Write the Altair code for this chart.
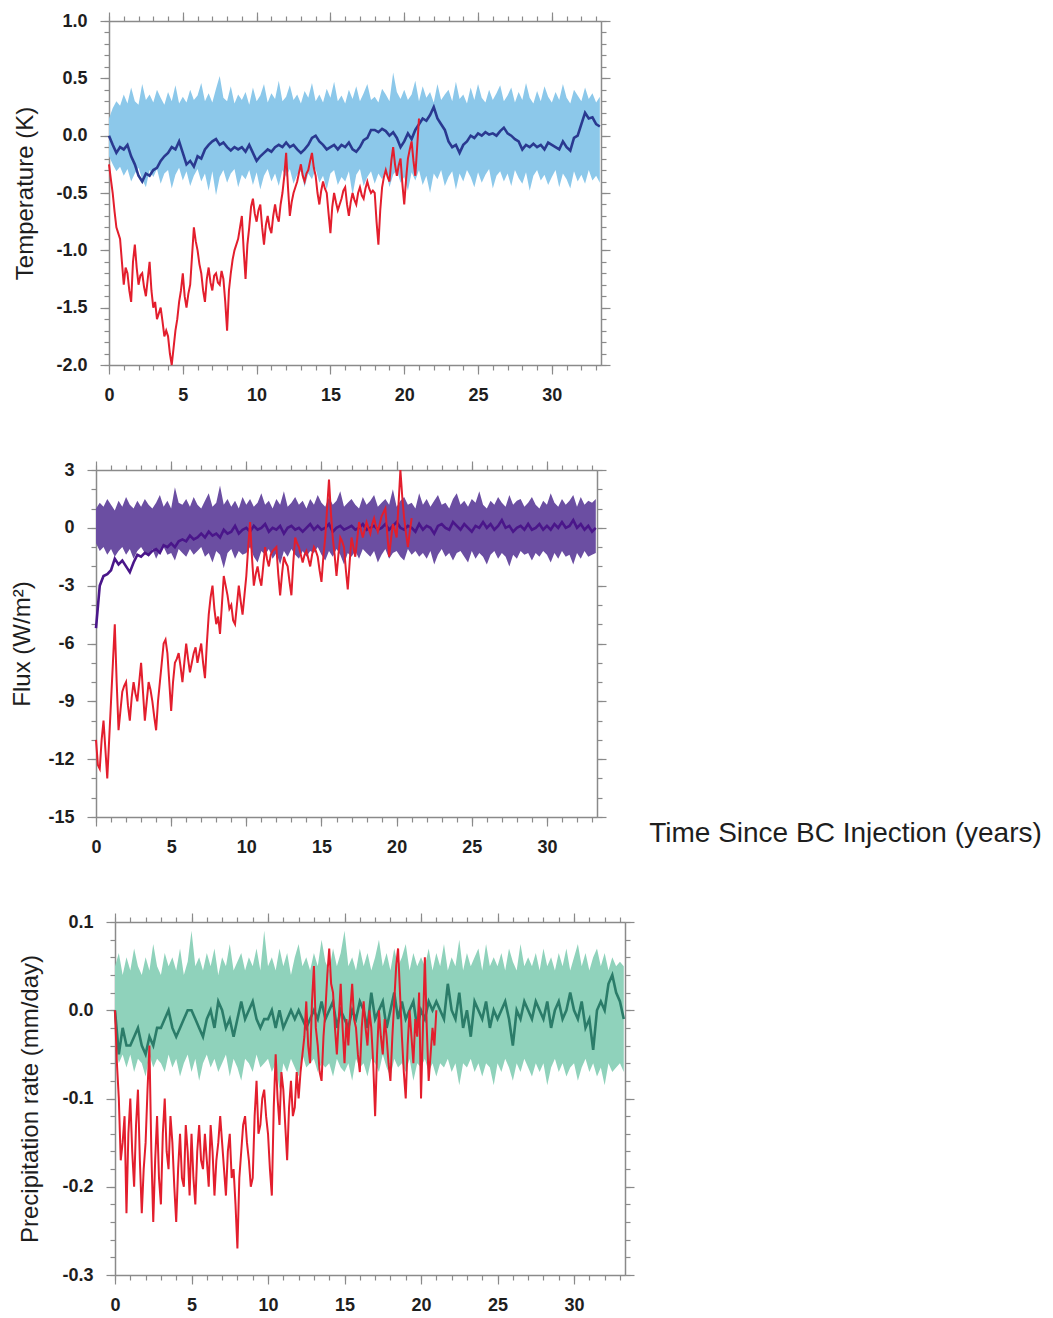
import altair as alt
import pandas as pd

# ---------------- data ----------------
STEP = 0.25        # control-run band and line: one value every 3 months
RED_STEP = 0.125   # BC-injection run: one value every 1.5 months
X_END = 33.33

# Panel 1 : Temperature (K)
temp_hi = [
    0.15, 0.24, 0.30, 0.26, 0.36, 0.28, 0.42, 0.30, 0.27, 0.45, 0.31, 0.36,
    0.29, 0.40, 0.33, 0.27, 0.38, 0.30, 0.44, 0.28, 0.34, 0.29, 0.40, 0.31,
    0.35, 0.46, 0.30, 0.37, 0.29, 0.41, 0.52, 0.33, 0.30, 0.43, 0.28, 0.36,
    0.31, 0.38, 0.27, 0.42, 0.30, 0.35, 0.45, 0.29, 0.37, 0.32, 0.48, 0.30,
    0.34, 0.44, 0.31, 0.36, 0.28, 0.39, 0.33, 0.46, 0.30, 0.36, 0.29, 0.41,
    0.33, 0.47, 0.30, 0.35, 0.28, 0.40, 0.32, 0.43, 0.30, 0.37, 0.45, 0.31,
    0.34, 0.29, 0.41, 0.36, 0.30, 0.55, 0.38, 0.32, 0.40, 0.31, 0.36, 0.48,
    0.30, 0.43, 0.33, 0.38, 0.29, 0.45, 0.31, 0.36, 0.40, 0.30, 0.47, 0.32,
    0.36, 0.28, 0.42, 0.31, 0.45, 0.33, 0.29, 0.40, 0.31, 0.37, 0.44, 0.30,
    0.35, 0.42, 0.29, 0.38, 0.31, 0.46, 0.33, 0.28, 0.39, 0.30, 0.43, 0.34,
    0.29, 0.38, 0.31, 0.45, 0.33, 0.28, 0.40, 0.35, 0.30, 0.42, 0.32, 0.37,
    0.29, 0.34,
]
temp_lo = [
    -0.18, -0.25, -0.31, -0.27, -0.35, -0.29, -0.40, -0.33, -0.28, -0.38, -0.45, -0.30,
    -0.36, -0.29, -0.42, -0.33, -0.30, -0.46, -0.34, -0.28, -0.39, -0.31, -0.44, -0.35,
    -0.29, -0.40, -0.33, -0.48, -0.31, -0.52, -0.36, -0.30, -0.41, -0.33, -0.29, -0.45,
    -0.34, -0.38, -0.30, -0.43, -0.32, -0.47, -0.35, -0.29, -0.40, -0.33, -0.44, -0.30,
    -0.36, -0.29, -0.42, -0.34, -0.31, -0.45, -0.33, -0.38, -0.29, -0.41, -0.35, -0.47,
    -0.33, -0.30, -0.43, -0.36, -0.40, -0.31, -0.52, -0.34, -0.29, -0.44, -0.36, -0.31,
    -0.42, -0.33, -0.38, -0.30, -0.45, -0.34, -0.30, -0.41, -0.36, -0.48, -0.32, -0.39,
    -0.30, -0.43, -0.35, -0.50, -0.33, -0.38, -0.30, -0.44, -0.36, -0.31, -0.47, -0.33,
    -0.40, -0.30, -0.36, -0.45, -0.32, -0.41, -0.34, -0.29, -0.46, -0.35, -0.31, -0.40,
    -0.33, -0.44, -0.30, -0.37, -0.42, -0.32, -0.48, -0.35, -0.30, -0.39, -0.34, -0.43,
    -0.36, -0.30, -0.45, -0.33, -0.38, -0.46, -0.31, -0.40, -0.34, -0.42, -0.30, -0.39,
    -0.35, -0.41,
]
temp_ctl = [
    0.00, -0.08, -0.15, -0.10, -0.12, -0.08, -0.18, -0.25, -0.35, -0.40, -0.33, -0.35,
    -0.30, -0.28, -0.22, -0.18, -0.15, -0.10, -0.12, -0.05, -0.15, -0.25, -0.22, -0.27,
    -0.18, -0.20, -0.12, -0.08, -0.05, -0.03, -0.08, -0.06, -0.10, -0.13, -0.10, -0.12,
    -0.10, -0.14, -0.08, -0.15, -0.22, -0.18, -0.15, -0.12, -0.14, -0.10, -0.08, -0.10,
    -0.06, -0.10, -0.08, -0.12, -0.15, -0.12, -0.08, -0.02, 0.00, -0.05, -0.08, -0.12,
    -0.10, -0.08, -0.12, -0.08, -0.10, -0.06, -0.12, -0.14, -0.10, -0.04, -0.02, 0.05,
    0.05, 0.03, 0.06, 0.04, 0.00, 0.03, -0.02, -0.10, -0.05, 0.02, -0.03, 0.05,
    0.10, 0.15, 0.13, 0.18, 0.25, 0.15, 0.10, 0.05, -0.05, -0.10, -0.08, -0.15,
    -0.08, -0.05, 0.00, -0.02, 0.02, 0.00, 0.03, 0.01, 0.02, 0.00, 0.04, 0.07,
    0.02, 0.00, -0.03, -0.05, -0.12, -0.08, -0.10, -0.07, -0.10, -0.08, -0.12, -0.06,
    -0.08, -0.10, -0.12, -0.05, -0.10, -0.13, -0.02, 0.00, 0.10, 0.20, 0.15, 0.16,
    0.10, 0.08,
]
temp_bc = [
    -0.25, -0.38, -0.50, -0.66, -0.80, -0.85, -0.90, -1.10,
    -1.30, -1.15, -1.20, -1.35, -1.45, -1.10, -0.95, -1.15,
    -1.30, -1.22, -1.20, -1.32, -1.40, -1.25, -1.10, -1.35,
    -1.50, -1.45, -1.60, -1.55, -1.50, -1.62, -1.75, -1.70,
    -1.75, -1.90, -2.00, -1.85, -1.70, -1.60, -1.45, -1.35,
    -1.20, -1.40, -1.50, -1.38, -1.30, -1.05, -0.80, -0.92,
    -1.00, -1.12, -1.20, -1.35, -1.45, -1.25, -1.15, -1.28,
    -1.35, -1.22, -1.20, -1.28, -1.30, -1.18, -1.25, -1.45,
    -1.70, -1.35, -1.20, -1.08, -1.00, -0.95, -0.90, -0.80,
    -0.70, -1.00, -1.25, -0.95, -0.80, -0.62, -0.55, -0.68,
    -0.75, -0.65, -0.60, -0.80, -0.95, -0.78, -0.70, -0.80,
    -0.85, -0.70, -0.60, -0.70, -0.75, -0.60, -0.50, -0.35,
    -0.15, -0.45, -0.70, -0.58, -0.50, -0.45, -0.40, -0.32,
    -0.25, -0.35, -0.40, -0.33, -0.30, -0.22, -0.15, -0.28,
    -0.35, -0.50, -0.60, -0.48, -0.40, -0.46, -0.50, -0.68,
    -0.85, -0.62, -0.50, -0.58, -0.65, -0.60, -0.55, -0.48,
    -0.45, -0.60, -0.70, -0.58, -0.50, -0.56, -0.60, -0.50,
    -0.45, -0.52, -0.55, -0.46, -0.40, -0.46, -0.50, -0.48,
    -0.50, -0.75, -0.95, -0.65, -0.45, -0.36, -0.30, -0.36,
    -0.40, -0.22, -0.10, -0.25, -0.35, -0.26, -0.20, -0.42,
    -0.60, -0.38, -0.20, -0.12, -0.05, -0.22, -0.35, -0.10,
    0.15,
]

# Panel 2 : Flux (W/m2)
flux_hi = [
    1.0, 1.3, 1.1, 1.5, 1.2, 0.9, 1.4, 1.1, 1.6, 1.2, 1.0, 1.4,
    1.1, 1.5, 1.2, 1.0, 1.3, 1.7, 1.1, 1.4, 1.0, 2.1, 1.3, 1.2,
    1.5, 1.1, 1.6, 1.2, 1.0, 1.4, 1.8, 1.1, 1.3, 2.2, 1.2, 1.5,
    1.1, 1.4, 1.0, 1.6, 1.2, 1.5, 1.1, 1.3, 1.8, 1.2, 1.4, 1.0,
    1.5, 1.2, 1.9, 1.1, 1.3, 1.6, 1.2, 1.4, 1.0, 1.5, 1.2, 1.7,
    1.3, 1.1, 1.6, 1.2, 1.4, 1.9, 1.1, 1.3, 1.5, 1.2, 1.0, 1.6,
    1.2, 1.4, 1.7, 1.1, 1.3, 1.5, 1.2, 2.0, 1.1, 1.4, 1.6, 1.2,
    1.3, 1.0, 1.8, 1.2, 1.5, 1.1, 1.4, 1.7, 1.2, 1.3, 1.0, 1.5,
    1.8, 1.2, 1.4, 1.1, 1.5, 1.3, 1.9, 1.2, 1.0, 1.4, 1.2, 1.6,
    1.3, 1.1, 1.7, 1.2, 1.4, 1.5, 1.1, 1.3, 1.6, 1.2, 1.0, 1.4,
    1.2, 1.8, 1.3, 1.1, 1.5, 1.2, 1.4, 1.7, 1.1, 1.6, 1.2, 1.4,
    1.3, 1.5,
]
flux_lo = [
    -0.8, -1.2, -1.0, -1.4, -1.1, -1.5, -1.2, -1.0, -1.4, -1.1, -1.6, -1.2,
    -1.0, -1.3, -1.5, -1.1, -1.6, -1.2, -1.0, -1.4, -1.3, -1.7, -1.1, -1.3,
    -1.5, -1.1, -1.4, -1.2, -1.0, -1.5, -1.3, -1.8, -1.2, -1.4, -2.1, -1.3,
    -1.1, -1.6, -1.2, -1.4, -1.3, -1.0, -1.5, -1.8, -1.2, -1.4, -1.1, -1.6,
    -1.3, -1.9, -1.2, -1.5, -1.1, -1.4, -1.6, -1.2, -1.5, -1.2, -1.3, -1.0,
    -1.4, -1.7, -1.2, -1.5, -1.1, -1.4, -1.9, -1.3, -1.5, -1.2, -1.6, -1.1,
    -1.3, -1.5, -1.2, -1.8, -1.4, -1.1, -1.6, -1.3, -1.2, -1.5, -1.7, -1.1,
    -1.4, -1.2, -1.5, -1.3, -1.6, -1.2, -1.9, -1.4, -1.1, -1.5, -1.3, -1.7,
    -1.3, -1.2, -1.5, -1.8, -1.2, -1.6, -1.3, -1.5, -1.9, -1.4, -1.2, -1.6,
    -1.3, -1.5, -2.0, -1.4, -1.6, -1.2, -1.4, -1.3, -1.7, -1.3, -1.5, -1.2,
    -1.4, -1.8, -1.3, -1.6, -1.2, -1.5, -1.4, -1.9, -1.3, -1.6, -1.2, -1.5,
    -1.4, -1.3,
]
flux_ctl = [
    -5.2, -3.0, -2.5, -2.4, -2.2, -1.6, -1.9, -1.7, -2.0, -2.3, -1.8, -1.4,
    -1.5, -1.3, -1.4, -1.2, -1.1, -1.3, -0.9, -1.0, -0.8, -1.0, -0.7, -0.6,
    -0.7, -0.4, -0.6, -0.5, -0.3, -0.5, -0.2, -0.4, -0.3, -0.5, -0.1, -0.3,
    -0.2, 0.1, -0.3, -0.1, 0.0, -0.2, 0.1, -0.1, 0.0, 0.2, -0.2, 0.0,
    -0.1, 0.1, -0.3, 0.0, 0.1, -0.1, 0.0, -0.2, 0.0, 0.2, -0.1, 0.1,
    -0.1, 0.0, 0.2, -0.2, 0.0, 0.1, -0.1, 0.0, 0.1, -0.1, 0.0, 0.2,
    -0.1, 0.0, 0.1, -0.1, 0.0, 0.2, -0.1, 0.1, 0.3, 0.0, -0.1, 0.1,
    0.0, -0.2, 0.2, -0.1, 0.1, 0.0, -0.3, 0.1, 0.2, 0.0, -0.1, 0.3,
    0.1, -0.1, 0.2, 0.0, -0.2, 0.1, 0.0, 0.3, 0.0, 0.2, -0.1, 0.1,
    0.4, 0.0, 0.1, -0.2, 0.0, 0.1, -0.1, 0.2, -0.1, 0.0, 0.2, -0.1,
    0.1, -0.1, 0.2, 0.0, 0.3, 0.0, 0.1, 0.4, 0.0, 0.2, -0.1, 0.1,
    -0.2, 0.0,
]
flux_bc = [
    -11.0, -12.3, -12.5, -11.0, -10.0, -11.5, -13.0, -11.0,
    -9.0, -7.0, -5.0, -8.0, -10.5, -9.5, -8.5, -8.2,
    -8.0, -9.2, -10.0, -8.8, -8.0, -8.6, -9.0, -8.0,
    -7.0, -8.5, -10.0, -9.0, -8.0, -8.4, -9.0, -9.8,
    -10.5, -9.0, -8.0, -7.0, -6.0, -5.8, -6.5, -8.0,
    -9.5, -8.0, -7.0, -6.8, -6.5, -7.2, -8.0, -7.0,
    -6.0, -6.8, -7.5, -7.0, -6.5, -6.2, -7.0, -6.5,
    -6.0, -7.0, -7.8, -6.0, -4.5, -3.6, -3.0, -4.2,
    -5.0, -4.6, -5.5, -4.0, -2.5, -3.0, -3.5, -4.2,
    -4.0, -4.8, -5.0, -4.0, -3.0, -3.8, -4.5, -3.5,
    -2.5, -1.0, 0.3, -1.5, -3.0, -2.4, -2.0, -2.6,
    -3.0, -2.0, -1.0, -1.6, -2.0, -1.4, -1.2, -1.1,
    -1.0, -2.4, -3.5, -2.4, -1.5, -1.8, -2.0, -2.8,
    -3.5, -1.8, -0.5, -0.8, -1.0, -1.4, -1.8, -1.4,
    -1.2, -1.6, -2.0, -1.4, -1.0, -1.2, -1.5, -2.2,
    -2.8, -1.5, -0.5, 1.0, 2.5, 0.8, -0.5, -1.4,
    -2.5, -1.4, -0.5, -0.7, -1.0, -2.2, -3.2, -1.8,
    -0.5, -1.0, -1.5, -0.6, 0.3, -0.1, -0.5, -0.1,
    0.3, 0.0, -0.3, 0.2, 0.5, 0.1, -0.2, 0.2,
    0.6, 0.8, 1.0, -0.3, -1.5, -0.6, 0.2, -0.1,
    -0.5, 1.2, 3.0, 1.6, 0.5, -0.3, -1.0, -0.2,
    0.5,
]

# Panel 3 : Precipitation rate (mm/day)
prec_hi = [
    0.05, 0.065, 0.04, 0.06, 0.045, 0.07, 0.05, 0.04, 0.06, 0.045, 0.075, 0.05,
    0.04, 0.065, 0.05, 0.06, 0.045, 0.07, 0.04, 0.055, 0.09, 0.05, 0.06, 0.045,
    0.065, 0.05, 0.07, 0.04, 0.06, 0.05, 0.075, 0.045, 0.055, 0.065, 0.045, 0.06,
    0.05, 0.07, 0.045, 0.09, 0.05, 0.06, 0.045, 0.07, 0.05, 0.065, 0.04, 0.06,
    0.075, 0.05, 0.06, 0.045, 0.065, 0.05, 0.08, 0.055, 0.045, 0.07, 0.05, 0.065,
    0.09, 0.05, 0.06, 0.045, 0.07, 0.05, 0.065, 0.045, 0.06, 0.08, 0.05, 0.065,
    0.045, 0.07, 0.05, 0.06, 0.075, 0.045, 0.065, 0.05, 0.06, 0.05, 0.07, 0.045,
    0.065, 0.05, 0.075, 0.045, 0.06, 0.05, 0.08, 0.045, 0.065, 0.05, 0.06, 0.07,
    0.045, 0.075, 0.05, 0.06, 0.05, 0.065, 0.045, 0.07, 0.055, 0.045, 0.075, 0.05,
    0.06, 0.05, 0.065, 0.045, 0.07, 0.05, 0.06, 0.045, 0.065, 0.05, 0.07, 0.045,
    0.06, 0.075, 0.05, 0.065, 0.045, 0.06, 0.07, 0.05, 0.065, 0.045, 0.06, 0.05,
    0.055, 0.05,
]
prec_lo = [
    -0.04, -0.06, -0.05, -0.065, -0.05, -0.07, -0.055, -0.06, -0.075, -0.05, -0.065, -0.055,
    -0.06, -0.07, -0.05, -0.065, -0.055, -0.075, -0.06, -0.05, -0.07, -0.055, -0.08, -0.06,
    -0.05, -0.065, -0.055, -0.07, -0.06, -0.05, -0.075, -0.055, -0.065, -0.08, -0.055, -0.06,
    -0.07, -0.05, -0.065, -0.06, -0.055, -0.07, -0.06, -0.09, -0.06, -0.07, -0.055, -0.065,
    -0.075, -0.05, -0.065, -0.06, -0.055, -0.07, -0.06, -0.065, -0.06, -0.075, -0.055, -0.065,
    -0.07, -0.06, -0.08, -0.055, -0.065, -0.06, -0.075, -0.055, -0.06, -0.07, -0.05, -0.065,
    -0.075, -0.055, -0.065, -0.06, -0.07, -0.055, -0.08, -0.06, -0.065, -0.055, -0.07, -0.06,
    -0.075, -0.06, -0.065, -0.055, -0.07, -0.06, -0.085, -0.06, -0.065, -0.055, -0.07, -0.06,
    -0.075, -0.06, -0.065, -0.085, -0.06, -0.07, -0.055, -0.065, -0.08, -0.06, -0.07, -0.055,
    -0.065, -0.075, -0.06, -0.07, -0.06, -0.085, -0.065, -0.055, -0.07, -0.06, -0.075, -0.065,
    -0.06, -0.08, -0.065, -0.055, -0.07, -0.06, -0.075, -0.065, -0.085, -0.06, -0.07, -0.065,
    -0.06, -0.07,
]
prec_ctl = [
    0.00, -0.05, -0.02, -0.04, -0.04, -0.03, -0.02, -0.04, -0.05, -0.03, -0.04, -0.02,
    -0.02, -0.01, 0.00, -0.02, -0.03, -0.02, -0.01, 0.00, 0.00, -0.01, -0.02, -0.03,
    -0.01, 0.00, -0.02, 0.01, 0.00, -0.02, -0.01, -0.03, -0.01, 0.01, -0.01, 0.00,
    0.01, -0.01, -0.02, -0.01, -0.01, 0.00, -0.02, 0.00, -0.02, -0.01, 0.00, -0.01,
    0.00, -0.01, -0.02, -0.01, 0.00, -0.01, 0.01, -0.01, 0.00, 0.01, -0.02, 0.00,
    -0.01, -0.02, 0.00, -0.01, 0.01, 0.00, -0.02, 0.02, -0.01, 0.00, 0.01, -0.02,
    0.00, 0.02, -0.01, 0.01, -0.01, 0.00, 0.01, -0.02, 0.00, -0.01, 0.01, 0.00,
    0.01, 0.00, -0.01, 0.03, 0.00, -0.01, 0.02, -0.02, 0.00, -0.03, 0.01, 0.00,
    -0.01, 0.01, -0.02, 0.00, -0.01, 0.00, 0.01, -0.01, -0.04, 0.00, -0.01, 0.01,
    0.00, -0.01, 0.01, 0.00, -0.01, 0.01, -0.02, 0.00, 0.01, -0.01, 0.00, 0.02,
    0.00, -0.01, 0.01, -0.02, -0.01, -0.045, 0.00, 0.01, 0.00, 0.03, 0.04, 0.02,
    0.01, -0.01,
]
prec_bc = [
    0.00, -0.06, -0.10, -0.17, -0.15, -0.12, -0.23, -0.14,
    -0.10, -0.16, -0.20, -0.13, -0.09, -0.17, -0.23, -0.18,
    -0.15, -0.09, -0.04, -0.16, -0.24, -0.17, -0.12, -0.19,
    -0.22, -0.14, -0.10, -0.16, -0.18, -0.12, -0.15, -0.20,
    -0.24, -0.18, -0.14, -0.19, -0.20, -0.13, -0.16, -0.21,
    -0.14, -0.19, -0.22, -0.16, -0.13, -0.17, -0.18, -0.14,
    -0.17, -0.20, -0.13, -0.16, -0.21, -0.17, -0.15, -0.12,
    -0.15, -0.18, -0.21, -0.16, -0.14, -0.19, -0.18, -0.22,
    -0.27, -0.19, -0.16, -0.13, -0.12, -0.15, -0.17, -0.20,
    -0.19, -0.12, -0.08, -0.14, -0.13, -0.10, -0.09, -0.12,
    -0.14, -0.18, -0.21, -0.11, -0.05, -0.10, -0.13, -0.07,
    -0.09, -0.13, -0.17, -0.11, -0.08, -0.12, -0.11, -0.07,
    -0.10, -0.07, -0.05, -0.03, 0.01, -0.04, -0.06, 0.01,
    0.05, -0.02, -0.04, -0.07, -0.08, -0.03, 0.00, 0.04,
    0.07, 0.03, 0.02, -0.02, -0.05, -0.01, 0.03, -0.02,
    -0.06, -0.01, -0.04, 0.00, 0.03, -0.01, -0.02, -0.05,
    -0.07, -0.02, 0.01, -0.02, -0.04, 0.00, -0.02, -0.06,
    -0.12, -0.05, 0.00, -0.03, -0.05, -0.01, -0.03, -0.06,
    -0.08, -0.03, 0.01, 0.05, 0.07, 0.02, -0.03, -0.07,
    -0.10, -0.04, 0.00, -0.03, -0.06, -0.01, -0.03, 0.02,
    -0.10, -0.02, 0.06, -0.02, -0.08, -0.05, -0.02, -0.04,
    0.00,
]

X_MAJOR = [0, 5, 10, 15, 20, 25, 30]
X_MINOR = list(range(0, 34))

FONT = "Liberation Sans"
FRAME = "#8a8a8a"
TXT = "#1e1e1e"
RED = "#e31e2d"


def times(n, step):
    return [round(i * step, 3) for i in range(n)]


def panel(hi, lo, ctl, bc, band_color, line_color, y_dom, y_major, y_minor,
          y_title, title_x, lead, width, height, fmt, x_title=None):
    band = pd.DataFrame({"t": times(len(hi), STEP), "lo": lo, "hi": hi, "ctl": ctl})
    red = pd.DataFrame({"t": times(len(bc), RED_STEP), "bc": bc})
    xs = alt.Scale(domain=[0, X_END], nice=False, zero=False)
    ys = alt.Scale(domain=y_dom, nice=False, zero=False)

    if x_title:
        x_axis = alt.Axis(orient="bottom", values=X_MAJOR, tickSize=9, labelPadding=12,
                          title=x_title, titleX=749, titleY=16, titleAlign="center",
                          titleBaseline="middle", titleFontSize=28)
    else:
        x_axis = alt.Axis(orient="bottom", values=X_MAJOR, tickSize=9, labelPadding=12,
                          title=None)
    y_axis = alt.Axis(orient="left", values=y_major, tickSize=9, labelPadding=13,
                      format=fmt, labelExpr="replace(datum.label, '\u2212', '-')",
                      title=y_title, titleX=title_x, titleBaseline="middle",
                      titleAlign="center")

    area = alt.Chart(band).mark_area(color=band_color, opacity=1).encode(
        x=alt.X("t:Q", scale=xs, axis=x_axis),
        y=alt.Y("lo:Q", scale=ys, axis=y_axis),
        y2="hi:Q",
    )
    ctl_line = alt.Chart(band).mark_line(color=line_color, strokeWidth=2.6).encode(
        x=alt.X("t:Q", scale=xs, axis=None),
        y=alt.Y("ctl:Q", scale=ys, axis=None),
    )
    bc_line = alt.Chart(red).mark_line(color=RED, strokeWidth=2.0).encode(
        x=alt.X("t:Q", scale=xs, axis=None),
        y=alt.Y("bc:Q", scale=ys, axis=None),
    )
    frame = alt.Chart(band).mark_line(strokeOpacity=0).encode(
        x=alt.X("t:Q", scale=xs, axis=alt.Axis(orient="top", values=X_MAJOR, labels=False,
                                                tickSize=9, title=None)),
        y=alt.Y("ctl:Q", scale=ys, axis=alt.Axis(orient="right", values=y_major, labels=False,
                                                  tickSize=9, title=None)),
    )
    minor_lb = alt.Chart(band).mark_line(strokeOpacity=0).encode(
        x=alt.X("t:Q", scale=xs, axis=alt.Axis(orient="bottom", values=X_MINOR, labels=False,
                                                domain=False, tickSize=5, title=None)),
        y=alt.Y("ctl:Q", scale=ys, axis=alt.Axis(orient="left", values=y_minor, labels=False,
                                                  domain=False, tickSize=5, title=None)),
    )
    minor_tr = alt.Chart(band).mark_line(strokeOpacity=0).encode(
        x=alt.X("t:Q", scale=xs, axis=alt.Axis(orient="top", values=X_MINOR, labels=False,
                                                domain=False, tickSize=5, title=None)),
        y=alt.Y("ctl:Q", scale=ys, axis=alt.Axis(orient="right", values=y_minor, labels=False,
                                                  domain=False, tickSize=5, title=None)),
    )
    layered = alt.layer(area, ctl_line, bc_line, frame, minor_lb, minor_tr).resolve_axis(
        x="independent", y="independent"
    ).properties(width=width, height=height)
    # an empty lead-in cell shifts this panel sideways within its row
    spacer = alt.Chart(pd.DataFrame({"a": [0]})).mark_point(size=0, opacity=0).encode(
        x=alt.value(0), y=alt.value(0)
    ).properties(width=lead, height=1)
    return alt.hconcat(spacer, layered, spacing=0)


p1 = panel(temp_hi, temp_lo, temp_ctl, temp_bc, "#8cc8ea", "#2a3990",
           [-2.0, 1.0], [-2.0, -1.5, -1.0, -0.5, 0.0, 0.5, 1.0],
           [round(-2.0 + 0.1 * i, 1) for i in range(31)],
           "Temperature (K)", -84, 5, 492, 344, ".1f")
p2 = panel(flux_hi, flux_lo, flux_ctl, flux_bc, "#6b4ea2", "#4a168a",
           [-15, 3], [-15, -12, -9, -6, -3, 0, 3], list(range(-15, 4)),
           "Flux (W/m\u00b2)", -74, 2, 501, 347, "d",
           x_title="Time Since BC Injection (years)")
p3 = panel(prec_hi, prec_lo, prec_ctl, prec_bc, "#8fd2bb", "#2b7c69",
           [-0.3, 0.1], [-0.3, -0.2, -0.1, 0.0, 0.1],
           [round(-0.3 + 0.02 * i, 2) for i in range(21)],
           "Precipitation rate (mm/day)", -85, 10, 510, 353, ".1f")

chart = alt.vconcat(p1, p2, p3, spacing=56).properties(
    padding={"left": 0, "top": 3, "right": 0, "bottom": 0}
).configure_axis(
    labelFont=FONT, labelFontSize=18, labelFontWeight="bold", labelColor=TXT,
    labelFlush=False,
    titleFont=FONT, titleFontSize=24, titleFontWeight="normal", titleColor=TXT,
    domainColor=FRAME, tickColor=FRAME, domainWidth=1.5, tickWidth=1.2,
    grid=False, zindex=1,
).configure_view(strokeWidth=0)

chart.save("out.html", embed_options={"renderer": "svg", "actions": False})
